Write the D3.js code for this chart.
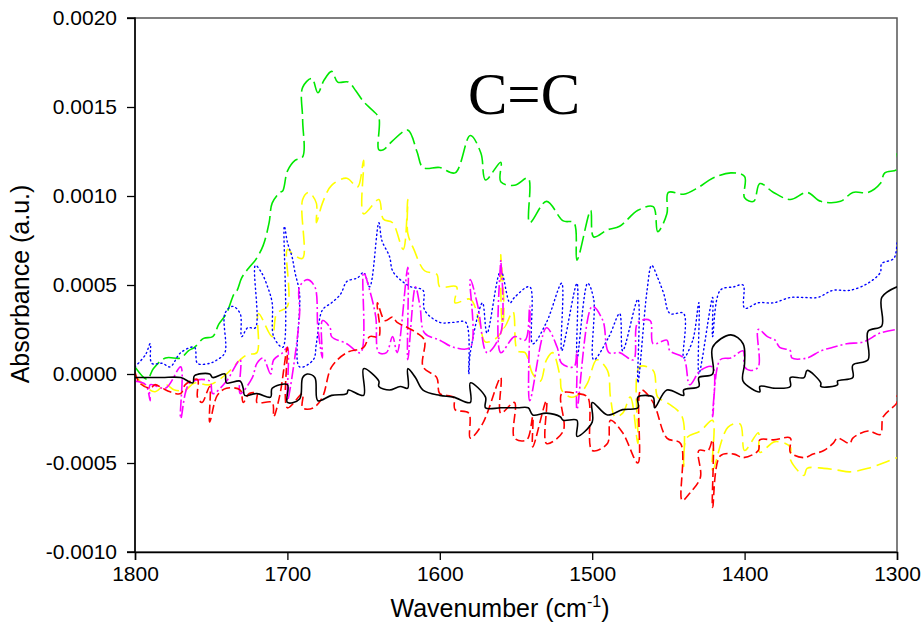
<!DOCTYPE html>
<html>
<head>
<meta charset="utf-8">
<script src="https://cdn.jsdelivr.net/npm/d3@7"></script>
<style>
  html, body { margin: 0; padding: 0; background: #fff; }
  svg { display: block; }
</style>
</head>
<body>
<div id="chart"></div>
<script>
// ---- Data (wavenumber cm^-1, absorbance in units of 1e-4 a.u.) ----
const ABS_UNIT = 1e-4;
const xTicks = [1800, 1700, 1600, 1500, 1400, 1300];
const yTicks = [0.0020, 0.0015, 0.0010, 0.0005, 0.0000, -0.0005, -0.0010];
const yTickLabels = ["0.0020", "0.0015", "0.0010", "0.0005", "0.0000", "-0.0005", "-0.0010"];
const xLabel = "Wavenumber (cm";
const yLabel = "Absorbance (a.u.)";
const annotation = "C=C";

const green = [[1800,0.4],[1792,-0.3],[1788,0.3],[1780,0.9],[1770,0.9],[1765,1.3],[1761,1.5],[1755,2.0],[1749,2.1],[1745,2.8],[1740,3.4],[1735,4.5],[1733,4.7],[1730,5.4],[1725,6.0],[1721,6.4],[1716,7.2],[1712,8.5],[1710,9.6],[1705,10.2],[1703,10.3],[1700,11.4],[1695,12.0],[1690,12.2],[1690,14.3],[1690,16.1],[1684,16.6],[1680,15.8],[1676,16.5],[1671,17.0],[1667,16.4],[1660,16.4],[1655,15.9],[1650,15.3],[1644,14.8],[1640,14.4],[1640,12.6],[1637,12.6],[1631,13.1],[1621,13.7],[1615,12.5],[1611,11.6],[1600,11.6],[1590,11.3],[1580,13.4],[1573,12.4],[1570,10.9],[1560,11.9],[1560,10.8],[1551,10.6],[1542,11.0],[1541,8.5],[1530,9.7],[1519,8.6],[1512,8.5],[1510,6.4],[1501,9.2],[1499,7.7],[1490,8.1],[1482,8.3],[1470,9.2],[1460,9.4],[1457,8.0],[1451,9.0],[1450,10.2],[1440,10.1],[1430,10.5],[1421,11.0],[1409,11.3],[1400,11.1],[1400,9.9],[1394,9.7],[1390,10.7],[1381,10.2],[1370,9.8],[1359,10.2],[1350,9.7],[1337,9.7],[1329,10.2],[1319,10.2],[1311,10.7],[1308,11.3],[1300,11.5],[1300,12.4]];

const yellow = [[1800,-0.1],[1793,-0.7],[1787,-1.0],[1780,-0.6],[1774,-0.9],[1767,-0.9],[1761,-0.5],[1751,-0.6],[1740,0.0],[1731,0.8],[1726,1.1],[1720,1.2],[1719,3.4],[1710,2.1],[1707,3.4],[1700,3.8],[1700,7.0],[1696,6.7],[1690,6.5],[1690,9.8],[1686,10.2],[1681,9.6],[1681,8.5],[1677,9.6],[1671,10.6],[1661,11.0],[1654,10.5],[1650,12.0],[1650,9.0],[1640,9.8],[1637,8.7],[1631,8.5],[1624,7.0],[1621,9.8],[1621,7.9],[1617,7.0],[1610,5.8],[1602,5.6],[1600,4.9],[1589,4.9],[1590,4.0],[1580,4.2],[1574,2.9],[1570,1.8],[1560,2.3],[1560,6.7],[1558,2.6],[1552,3.5],[1549,1.3],[1544,1.2],[1539,0.0],[1534,-0.4],[1530,0.8],[1526,1.2],[1521,-0.2],[1520,-0.9],[1514,-1.3],[1508,-1.1],[1503,-0.5],[1497,0.8],[1490,0.2],[1488,-1.3],[1485,-2.4],[1480,-2.2],[1475,-1.3],[1470,-3.9],[1469,0.4],[1460,0.2],[1457,-1.3],[1451,-1.6],[1441,-2.4],[1440,-5.2],[1438,-3.6],[1429,-3.2],[1421,-2.6],[1421,-5.4],[1411,-3.0],[1403,-2.8],[1400,-4.3],[1391,-3.3],[1390,-4.4],[1380,-3.8],[1370,-4.1],[1370,-4.8],[1361,-5.7],[1359,-5.3],[1348,-5.3],[1339,-5.4],[1331,-5.5],[1319,-5.3],[1309,-5.0],[1300,-4.7]];

const blue = [[1800,0.4],[1793,1.1],[1790,1.7],[1789,0.6],[1782,0.6],[1777,0.4],[1770,1.2],[1761,1.5],[1759,0.6],[1751,0.6],[1746,0.8],[1741,1.2],[1741,3.4],[1736,3.8],[1731,3.4],[1730,2.1],[1726,2.6],[1721,2.6],[1721,6.1],[1717,5.7],[1713,4.9],[1710,4.0],[1709,2.1],[1703,1.5],[1702,8.3],[1700,7.4],[1697,6.6],[1695,5.7],[1692,4.5],[1692,0.4],[1683,0.8],[1681,1.7],[1677,3.6],[1671,4.0],[1665,4.5],[1661,5.2],[1654,5.4],[1650,5.7],[1646,4.9],[1640,8.5],[1638,7.5],[1633,6.6],[1631,5.8],[1626,5.3],[1619,4.9],[1611,4.7],[1610,3.6],[1600,2.9],[1591,2.9],[1583,2.9],[1581,0.0],[1580,1.2],[1572,4.0],[1569,2.3],[1560,5.8],[1554,4.0],[1551,4.3],[1541,4.9],[1539,1.7],[1530,2.9],[1520,5.1],[1520,1.3],[1510,5.1],[1510,0.8],[1503,5.1],[1499,4.2],[1499,0.8],[1489,2.1],[1482,3.4],[1480,1.3],[1470,4.2],[1470,-0.5],[1464,4.7],[1461,6.1],[1457,5.4],[1453,4.5],[1449,3.4],[1440,3.4],[1440,0.9],[1434,1.9],[1430,4.0],[1430,0.0],[1421,4.3],[1421,2.1],[1416,4.7],[1407,4.9],[1401,5.0],[1400,3.7],[1391,4.0],[1381,4.0],[1370,4.3],[1361,4.3],[1352,4.3],[1342,4.7],[1331,4.7],[1319,5.1],[1311,5.7],[1310,6.2],[1302,6.5],[1300,7.5]];

const magenta = [[1800,-0.4],[1793,-0.6],[1790,-1.5],[1790,-0.6],[1780,-0.8],[1770,0.4],[1770,-2.5],[1764,-0.5],[1751,-0.4],[1749,-1.1],[1740,-0.4],[1731,0.8],[1731,-1.1],[1723,-0.2],[1720,0.6],[1716,0.9],[1711,0.0],[1709,0.8],[1703,1.2],[1700,1.5],[1700,-1.5],[1696,0.4],[1692,3.4],[1692,4.9],[1687,5.3],[1682,4.9],[1680,2.6],[1677,0.9],[1677,3.0],[1672,2.6],[1671,2.1],[1661,1.7],[1652,1.2],[1650,5.7],[1646,4.7],[1642,3.2],[1640,1.2],[1635,1.2],[1631,2.1],[1628,1.2],[1621,6.0],[1621,0.8],[1616,4.9],[1613,3.8],[1610,2.3],[1600,1.9],[1591,1.5],[1580,1.5],[1580,5.3],[1575,3.8],[1569,1.2],[1560,2.3],[1560,6.4],[1560,1.2],[1551,2.1],[1544,1.9],[1541,3.8],[1541,-1.5],[1530,2.6],[1523,1.5],[1520,0.6],[1512,0.4],[1510,1.3],[1510,-2.0],[1500,3.8],[1493,3.0],[1489,1.2],[1482,1.2],[1473,0.8],[1470,2.9],[1462,3.0],[1460,1.7],[1451,1.9],[1449,1.3],[1440,0.9],[1436,-0.6],[1429,0.2],[1421,0.4],[1421,-2.4],[1416,0.8],[1409,0.9],[1401,1.3],[1400,0.4],[1396,0.2],[1391,0.4],[1391,2.5],[1385,2.1],[1380,1.9],[1377,1.5],[1370,1.3],[1369,0.9],[1359,0.9],[1350,1.3],[1342,1.5],[1333,1.7],[1322,1.8],[1311,2.3],[1300,2.5]];

const red = [[1800,0.1],[1797,-0.5],[1790,-0.8],[1787,-0.6],[1782,-0.8],[1777,-1.0],[1770,-1.1],[1767,-0.6],[1759,-0.3],[1759,-1.3],[1756,-1.6],[1751,-0.7],[1751,-2.7],[1746,-1.2],[1740,-0.8],[1731,-0.9],[1729,-1.6],[1725,-1.1],[1720,-1.1],[1720,-1.6],[1710,-1.6],[1709,-2.4],[1705,-1.2],[1700,1.5],[1700,-1.9],[1690,-1.1],[1690,-1.9],[1683,-1.9],[1677,-1.3],[1671,0.4],[1661,1.2],[1650,1.5],[1646,2.1],[1640,2.1],[1641,4.0],[1636,3.0],[1631,3.2],[1628,2.9],[1621,2.6],[1615,2.3],[1610,1.9],[1611,0.4],[1602,-0.2],[1600,-1.1],[1591,-1.3],[1590,-2.0],[1581,-2.2],[1580,-3.6],[1572,-2.8],[1560,-0.2],[1560,-2.2],[1551,-1.6],[1551,-3.6],[1543,-3.7],[1539,-2.4],[1539,-4.1],[1530,-1.5],[1530,-3.9],[1519,-3.2],[1520,-1.1],[1510,-1.1],[1503,-1.3],[1500,-4.3],[1490,-3.9],[1488,-2.6],[1480,-3.3],[1470,-5.0],[1468,-0.9],[1460,-1.6],[1451,-3.6],[1442,-3.9],[1441,-7.1],[1436,-6.7],[1429,-5.8],[1430,-4.3],[1424,-4.3],[1421,-3.7],[1421,-7.5],[1416,-4.6],[1407,-4.5],[1401,-4.7],[1391,-4.3],[1390,-3.7],[1381,-3.7],[1370,-3.6],[1370,-4.4],[1361,-4.7],[1355,-4.5],[1348,-4.3],[1342,-3.9],[1339,-3.6],[1331,-3.9],[1329,-3.6],[1319,-3.2],[1311,-3.4],[1309,-2.4],[1300,-1.6],[1300,-1.2]];

const black = [[1800,-0.2],[1790,-0.2],[1782,-0.2],[1770,-0.2],[1762,-0.5],[1761,-0.1],[1751,0.0],[1749,-0.2],[1741,0.0],[1740,-0.5],[1731,-0.4],[1729,-0.8],[1728,-1.2],[1720,-1.1],[1711,-1.3],[1710,-0.8],[1700,-0.6],[1700,-1.6],[1692,-1.4],[1690,-0.2],[1687,0.0],[1682,-0.2],[1680,-1.5],[1671,-1.2],[1661,-1.1],[1660,-0.9],[1650,-1.2],[1650,0.3],[1640,-0.4],[1640,-0.7],[1633,-0.9],[1626,-0.7],[1621,-0.8],[1621,0.3],[1616,-0.2],[1611,-0.9],[1600,-1.2],[1591,-1.3],[1580,-1.6],[1580,-0.5],[1570,-1.3],[1570,-1.9],[1560,-1.9],[1549,-1.9],[1542,-1.9],[1539,-2.3],[1530,-2.2],[1521,-2.4],[1519,-2.6],[1510,-2.6],[1510,-3.5],[1500,-2.7],[1500,-1.6],[1490,-2.3],[1480,-2.0],[1470,-1.9],[1470,-1.3],[1460,-1.3],[1459,-1.9],[1451,-0.9],[1440,-1.2],[1440,-0.9],[1430,-0.7],[1430,-0.2],[1421,0.0],[1421,1.5],[1409,2.2],[1401,1.7],[1400,0.6],[1401,-0.4],[1390,-1.0],[1390,-0.7],[1380,-0.8],[1370,-0.7],[1370,-0.2],[1361,-0.2],[1359,0.2],[1350,-0.5],[1350,-0.7],[1339,-0.6],[1339,-0.4],[1329,-0.2],[1329,0.5],[1319,0.8],[1319,2.4],[1310,2.7],[1310,4.3],[1300,4.9]];

const seriesList = [
  { name: "green",   data: green,   color: "#00e800", dash: "17,5",      width: 1.6 },
  { name: "yellow",  data: yellow,  color: "#ffff00", dash: "14,6",      width: 1.6 },
  { name: "blue",    data: blue,    color: "#0000ff", dash: "1.2,3.2",   width: 1.4 },
  { name: "magenta", data: magenta, color: "#ff00ff", dash: "12,3,2,3",  width: 1.6 },
  { name: "red",     data: red,     color: "#ff0000", dash: "9,4",       width: 1.6 },
  { name: "black",   data: black,   color: "#000000", dash: null,        width: 1.6 }
];

// ---- Layout ----
const W = 922, H = 630;
const margin = { left: 135, top: 18, right: 25, bottom: 78 };
const pw = W - margin.left - margin.right;
const ph = H - margin.top - margin.bottom;
const SANS = "Arial, 'Liberation Sans', sans-serif";
const SERIF = "'Times New Roman', 'Liberation Serif', 'DejaVu Serif', serif";

const svg = d3.select("#chart").append("svg").attr("width", W).attr("height", H);

const x = d3.scaleLinear().domain([1800, 1300]).range([margin.left, margin.left + pw]);
const y = d3.scaleLinear().domain([-0.0010, 0.0020]).range([margin.top + ph, margin.top]);

svg.append("defs").append("clipPath").attr("id", "clip")
  .append("rect").attr("x", margin.left).attr("y", margin.top).attr("width", pw).attr("height", ph);

// frame (top/right)
svg.append("rect")
  .attr("x", margin.left).attr("y", margin.top).attr("width", pw).attr("height", ph)
  .attr("fill", "none").attr("stroke", "#555").attr("stroke-width", 1.5);

const line = d3.line()
  .x(d => x(d[0]))
  .y(d => y(d[1] * ABS_UNIT))
  .curve(d3.curveCatmullRom.alpha(0.5));

const g = svg.append("g").attr("clip-path", "url(#clip)");
seriesList.forEach(s => {
  g.append("path")
    .datum(s.data)
    .attr("fill", "none")
    .attr("stroke", s.color)
    .attr("stroke-width", s.width)
    .attr("stroke-dasharray", s.dash)
    .attr("stroke-linejoin", "round")
    .attr("stroke-linecap", s.name === "blue" ? "round" : "butt")
    .attr("d", line);
});

// axes
const xAxis = d3.axisBottom(x).tickValues(xTicks).tickSize(8).tickPadding(6).tickFormat(d3.format("d"));
const yAxis = d3.axisLeft(y).tickValues(yTicks).tickSize(8).tickPadding(10)
  .tickFormat((d, i) => yTickLabels[i]);

const gx = svg.append("g").attr("transform", `translate(0,${margin.top + ph})`).call(xAxis);
const gy = svg.append("g").attr("transform", `translate(${margin.left},0)`).call(yAxis);
[gx, gy].forEach(a => {
  a.select(".domain").attr("stroke", "#000").attr("stroke-width", 1.5);
  a.selectAll(".tick line").attr("stroke", "#000").attr("stroke-width", 1.3);
  a.selectAll(".tick text").style("font-size", "21px").style("font-family", SANS).attr("fill", "#000");
});
gy.select(".domain").attr("d", `M-8,${margin.top}H0V${margin.top + ph}H-8`);

// axis titles
const xt = svg.append("text")
  .attr("x", 500).attr("y", 617)
  .attr("text-anchor", "middle").style("font-size", "25px").style("font-family", SANS).attr("fill", "#000");
xt.append("tspan").text(xLabel);
xt.append("tspan").attr("dy", -10).style("font-size", "16px").text("-1");
xt.append("tspan").attr("dy", 10).text(")");

svg.append("text")
  .attr("transform", `translate(29,284) rotate(-90)`)
  .attr("text-anchor", "middle").style("font-size", "25px").style("font-family", SANS).attr("fill", "#000")
  .text(yLabel);

// annotation
svg.append("text")
  .attr("x", 468).attr("y", 114)
  .style("font-family", SERIF)
  .style("font-size", "59px").attr("fill", "#000")
  .text(annotation);
</script>
</body>
</html>
